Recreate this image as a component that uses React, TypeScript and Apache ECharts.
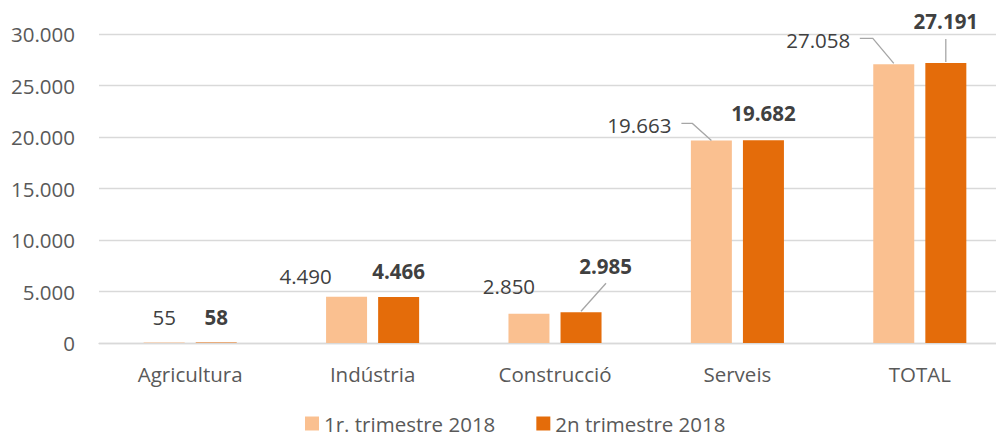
import React, { useEffect, useRef } from "react";
import * as echarts from "echarts";

const categories = ["Agricultura", "Indústria", "Construcció", "Serveis", "TOTAL"];
const seriesNames = ["1r. trimestre 2018", "2n trimestre 2018"];
const q1Values = [55, 4490, 2850, 19663, 27058];
const q2Values = [58, 4466, 2985, 19682, 27191];
const yMin = 0;
const yMax = 30000;
const yInterval = 5000;

const fmt = (v: number) =>
  String(Math.round(v)).replace(/\B(?=(\d{3})+(?!\d))/g, ".");

// label placement (px) relative to the bar's top centre
const q1LabelOffsets = [
  [0, -25],
  [-41, -21],
  [-20, -28],
  [-72, -15.5],
  [-75.5, -24],
];
const q2LabelOffsets = [
  [0, -25],
  [0, -26],
  [24.5, -46],
  [0, -27],
  [0, -42],
];
// leader lines (px) relative to the bar's top centre
const leaders = [
  { series: 1, cat: 2, pts: [[25, -29], [0, -1]] },
  { series: 0, cat: 3, pts: [[-30, -17], [-19, -17], [0, 0]] },
  { series: 0, cat: 4, pts: [[-34, -26], [-21, -26], [0, -1]] },
  { series: 1, cat: 4, pts: [[0, -24], [0, -1]] },
];

const BAR_OFFSET = 26;
const FONT = "Open Sans";
const FS = 20.5;
const COLORS = ["#FAC090", "#E46C0A"];

export default function App() {
  const ref = useRef<HTMLDivElement>(null);
  useEffect(() => {
    if (!ref.current) return;
    const chart = echarts.init(ref.current, undefined, { renderer: "svg" });
    const values = [q1Values, q2Values];
    const offsets = [q1LabelOffsets, q2LabelOffsets];
    const barSeries = values.map((vals, si) => ({
      type: "bar",
      name: seriesNames[si],
      barWidth: 41,
      barGap: "27%",
      itemStyle: { color: COLORS[si] },
      label: {
        show: true,
        position: "top",
        distance: 0,
        align: "center",
        verticalAlign: "middle",
        fontFamily: FONT,
        fontSize: FS,
        fontWeight: si === 1 ? "bold" : "normal",
        color: "#404040",
        formatter: (p: any) => fmt(p.value),
      },
      data: vals.map((v, i) => ({
        value: v,
        label: { offset: offsets[si][i] },
      })),
    }));
    const leaderData = leaders.map((l, idx) => [
      l.cat,
      values[l.series][l.cat],
      l.series,
      idx,
    ]);
    chart.setOption({
      animation: false,
      grid: { left: 99, right: 0, top: 34, bottom: 94, containLabel: false },
      legend: {
        data: seriesNames,
        left: 305,
        top: 413,
        padding: 0,
        itemWidth: 14,
        itemHeight: 14,
        itemGap: 41,
        icon: "rect",
        textStyle: {
          fontFamily: FONT,
          fontSize: FS,
          lineHeight: 18,
          color: "#595959",
        },
      },
      xAxis: {
        type: "category",
        data: categories,
        axisLine: { lineStyle: { color: "#D9D9D9", width: 1.3 } },
        axisTick: { show: false },
        axisLabel: {
          fontFamily: FONT,
          fontSize: FS,
          color: "#595959",
          margin: 20,
        },
      },
      yAxis: {
        type: "value",
        min: yMin,
        max: yMax,
        interval: yInterval,
        axisLine: { show: false },
        axisTick: { show: false },
        splitLine: { lineStyle: { color: "#D9D9D9", width: 1.3 } },
        axisLabel: {
          fontFamily: FONT,
          fontSize: FS,
          color: "#595959",
          margin: 24,
          formatter: (v: number) => fmt(v),
        },
      },
      series: [
        ...barSeries,
        {
          type: "custom",
          name: "leaders",
          silent: true,
          z: 5,
          data: leaderData,
          renderItem: (params: any, api: any) => {
            const cat = api.value(0);
            const val = api.value(1);
            const si = api.value(2);
            const li = api.value(3);
            const p = api.coord([cat, val]);
            const bx = p[0] + (si === 0 ? -BAR_OFFSET : BAR_OFFSET);
            const by = p[1];
            return {
              type: "polyline",
              shape: {
                points: leaders[li].pts.map((d) => [bx + d[0], by + d[1]]),
              },
              style: { stroke: "#A6A6A6", lineWidth: 1.3, fill: "none" },
            };
          },
        },
      ],
    });
    return () => chart.dispose();
  }, []);
  return (
    <div
      style={{
        position: "fixed",
        left: 0,
        top: 0,
        width: 996,
        height: 437,
        overflow: "hidden",
        background: "#fff",
      }}
    >
      <div ref={ref} style={{ width: 1011, height: 437 }} />
    </div>
  );
}
